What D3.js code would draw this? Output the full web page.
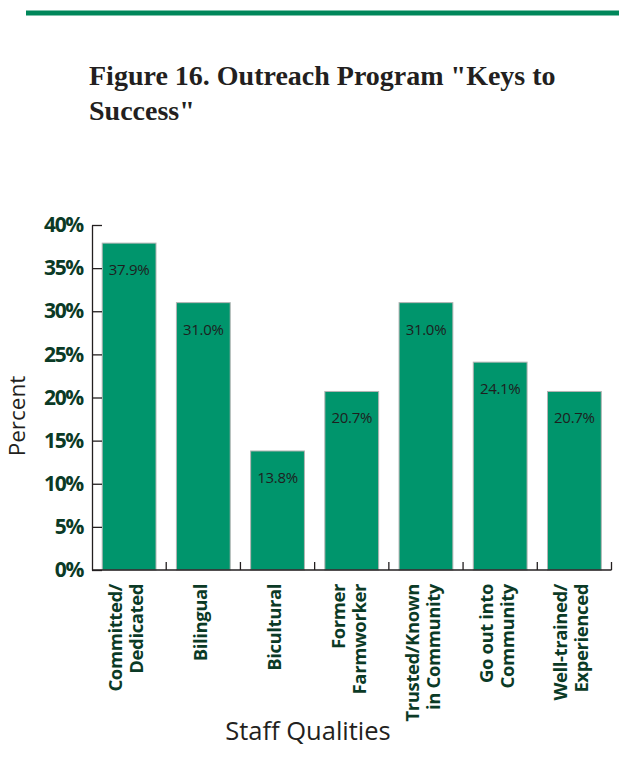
<!DOCTYPE html>
<html>
<head>
<meta charset="utf-8">
<script src="https://cdn.jsdelivr.net/npm/d3@7"></script>
<style>
  html, body { margin: 0; padding: 0; background: #fff; }
  svg { display: block; }
</style>
</head>
<body>
<svg id="chart" width="619" height="759"></svg>
<script>
// Staff qualities cited as outreach "keys to success"
const categories = [
  ["Committed/", "Dedicated"],
  ["Bilingual"],
  ["Bicultural"],
  ["Former", "Farmworker"],
  ["Trusted/Known", "in Community"],
  ["Go out into", "Community"],
  ["Well-trained/", "Experienced"]
];
const values = [37.9, 31.0, 13.8, 20.7, 31.0, 24.1, 20.7];
const yTicks = [0, 5, 10, 15, 20, 25, 30, 35, 40];

const svg = d3.select("#chart");
const margin = { left: 92, right: 7.5, top: 225, bottom: 189 };
const W = 619, H = 759;
const x0 = margin.left, x1 = W - margin.right;
const y0 = H - margin.bottom, y1 = margin.top;

const keys = categories.map(c => c.join(" "));
const x = d3.scaleBand().domain(keys).range([x0, x1]).paddingInner(0.275).paddingOuter(0.1375);
const xOuter = d3.scaleBand().domain(keys).range([x0, x1]).padding(0);
const y = d3.scaleLinear().domain([0, 40]).range([y0, y1]);

// header rule
svg.append("rect").attr("x", 26).attr("y", 10.5).attr("width", W - 26).attr("height", 5).attr("fill", "#00875a");

// title
const title = svg.append("text")
  .attr("font-family", "'Liberation Serif', serif")
  .attr("font-weight", "bold")
  .attr("font-size", 28)
  .attr("fill", "#231f20");
title.append("tspan").attr("x", 89).attr("y", 85).text('Figure 16. Outreach Program "Keys to');
title.append("tspan").attr("x", 89).attr("y", 120).text('Success"');

// bars
svg.append("g").selectAll("rect")
  .data(values)
  .join("rect")
  .attr("x", (d, i) => x(keys[i]))
  .attr("y", d => y(d))
  .attr("width", x.bandwidth())
  .attr("height", d => y(0) - y(d))
  .attr("fill", "#00956c")
  .attr("stroke", "#b4b4b4")
  .attr("stroke-width", 1);

// value labels inside bars
svg.append("g").selectAll("text")
  .data(values)
  .join("text")
  .attr("x", (d, i) => x(keys[i]) + x.bandwidth() / 2)
  .attr("y", d => y(d) + 32)
  .attr("text-anchor", "middle")
  .attr("font-family", "'Open Sans', sans-serif")
  .attr("font-size", 15)
  .attr("letter-spacing", -0.3)
  .attr("fill", "#1e1e1e")
  .text(d => d.toFixed(1) + "%");

// y axis
const yAxis = d3.axisLeft(y)
  .tickValues(yTicks)
  .tickFormat(d => d + "%")
  .tickSizeInner(-10)
  .tickSizeOuter(0)
  .tickPadding(9);
const gy = svg.append("g").attr("transform", `translate(${x0},0)`).call(yAxis);
gy.select(".domain").attr("stroke", "#231f20").attr("stroke-width", 1.3);
gy.selectAll(".tick line").attr("stroke", "#231f20").attr("stroke-width", 1.3);
gy.selectAll(".tick text")
  .attr("font-family", "'Open Sans', sans-serif")
  .attr("font-weight", "bold")
  .attr("font-size", 21)
  .attr("letter-spacing", -1.3)
  .attr("fill", "#0b3a26");

// x axis baseline with category boundary ticks
const gx = svg.append("g");
gx.append("line").attr("x1", x0).attr("x2", x1).attr("y1", y0).attr("y2", y0)
  .attr("stroke", "#231f20").attr("stroke-width", 1.3);
gx.selectAll("line.sep")
  .data(keys)
  .join("line")
  .attr("class", "sep")
  .attr("x1", k => xOuter(k) + xOuter.bandwidth())
  .attr("x2", k => xOuter(k) + xOuter.bandwidth())
  .attr("y1", y0).attr("y2", y0 - 8)
  .attr("stroke", "#231f20").attr("stroke-width", 1.3);

// category labels, rotated
const lineGap = 21;
gx.selectAll("g.cat")
  .data(categories)
  .join("g")
  .attr("class", "cat")
  .each(function (lines, i) {
    const cx = x(keys[i]) + x.bandwidth() / 2 - 3;
    const n = lines.length;
    lines.forEach((ln, j) => {
      const lx = cx + (j - (n - 1) / 2) * lineGap + 6.5;
      d3.select(this).append("text")
        .attr("transform", `translate(${lx},${y0 + 14}) rotate(-90)`)
        .attr("text-anchor", "end")
        .attr("font-family", "'Open Sans', sans-serif")
        .attr("font-weight", "bold")
        .attr("font-size", 18.5)
        .attr("letter-spacing", -0.4)
        .attr("fill", "#0b3a26")
        .text(ln);
    });
  });

// axis titles
svg.append("text")
  .attr("transform", `translate(25,416) rotate(-90)`)
  .attr("text-anchor", "middle")
  .attr("font-family", "'Open Sans', sans-serif")
  .attr("font-size", 22.5)
  .attr("fill", "#231f20")
  .text("Percent");

svg.append("text")
  .attr("x", 308).attr("y", 740)
  .attr("text-anchor", "middle")
  .attr("font-family", "'Open Sans', sans-serif")
  .attr("font-size", 25.5)
  .attr("fill", "#231f20")
  .text("Staff Qualities");
</script>
</body>
</html>
